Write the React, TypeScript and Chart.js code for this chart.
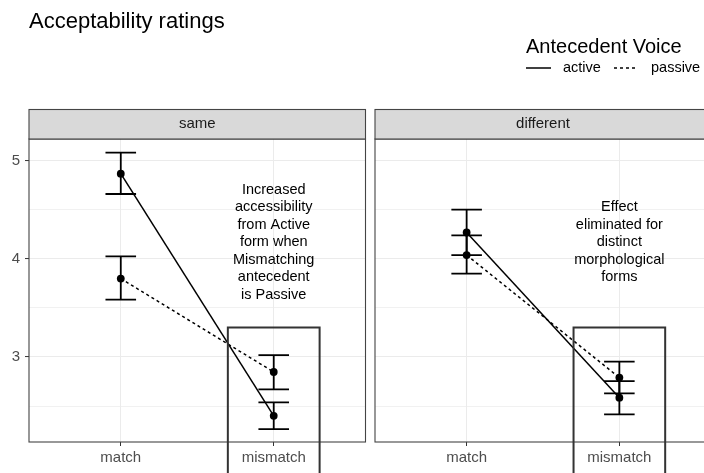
import React, { useEffect, useRef } from 'react';
import { Chart, registerables } from 'chart.js';
Chart.register(...registerables);

const FONT = '"Liberation Sans", Arial, Helvetica, sans-serif';
Chart.defaults.font.family = FONT;

// ---- data ----
const conditions = ['match', 'mismatch'];
const panelNames = ['same', 'different'];
const seriesNames = ['active', 'passive'];

const sameActiveMean = [4.87, 2.4];
const sameActiveLo = [4.663, 2.265];
const sameActiveHi = [5.085, 2.537];
const samePassiveMean = [3.8, 2.847];
const samePassiveLo = [3.585, 2.67];
const samePassiveHi = [4.027, 3.02];

const diffActiveMean = [4.27, 2.585];
const diffActiveLo = [4.04, 2.415];
const diffActiveHi = [4.503, 2.755];
const diffPassiveMean = [4.04, 2.79];
const diffPassiveLo = [3.85, 2.63];
const diffPassiveHi = [4.24, 2.952];

const yMajorTicks = [3, 4, 5];
const yMinorTicks = [2.5, 3.5, 4.5];
const yMin = 2.133;
const yMax = 5.224;

const sameNote = ['Increased', 'accessibility', 'from Active', 'form when', 'Mismatching', 'antecedent', 'is Passive'];
const diffNote = ['Effect', 'eliminated for', 'distinct', 'morphological', 'forms'];
const noteY = 4.18;
const boxTop = 3.3;
const boxHalfWidth = 0.3;
const capHalfWidth = 0.1;

const subtitle = 'Acceptability ratings';
const legendTitle = 'Antecedent Voice';

const W = 704;
const H = 473;

type Series = { mean: number[]; lo: number[]; hi: number[] };

function buildChart(
  canvas: HTMLCanvasElement,
  cfg: {
    strip: string;
    active: Series;
    passive: Series;
    note: string[];
    showY: boolean;
    padLeft: number;
    padRight: number;
    yWidth: number;
    extra?: (chart: any) => void;
  }
) {
  const decor = {
    id: 'decor',
    afterDatasetsDraw(chart: any) {
      const { ctx, scales } = chart;
      const x = scales.x;
      const y = scales.y;
      ctx.save();
      ctx.strokeStyle = '#000';
      ctx.lineWidth = 1.8;
      [cfg.active, cfg.passive].forEach((s) => {
        conditions.forEach((_, i) => {
          const xv = i + 1;
          const xp = x.getPixelForValue(xv);
          const xl = x.getPixelForValue(xv - capHalfWidth);
          const xr = x.getPixelForValue(xv + capHalfWidth);
          const yl = y.getPixelForValue(s.lo[i]);
          const yh = y.getPixelForValue(s.hi[i]);
          ctx.beginPath();
          ctx.moveTo(xp, yl);
          ctx.lineTo(xp, yh);
          ctx.moveTo(xl, yl);
          ctx.lineTo(xr, yl);
          ctx.moveTo(xl, yh);
          ctx.lineTo(xr, yh);
          ctx.stroke();
        });
      });
      ctx.restore();
    },
    afterDraw(chart: any) {
      const { ctx, chartArea: a, scales } = chart;
      const x = scales.x;
      const y = scales.y;
      ctx.save();
      // panel border
      ctx.strokeStyle = '#444';
      ctx.lineWidth = 1.1;
      ctx.strokeRect(a.left, a.top, a.right - a.left, a.bottom - a.top);
      // strip
      const sTop = 109.5;
      const sBot = a.top;
      ctx.fillStyle = '#d9d9d9';
      ctx.fillRect(a.left, sTop, a.right - a.left, sBot - sTop);
      ctx.strokeRect(a.left, sTop, a.right - a.left, sBot - sTop);
      ctx.fillStyle = '#1a1a1a';
      ctx.font = `15px ${FONT}`;
      ctx.textAlign = 'center';
      ctx.textBaseline = 'middle';
      ctx.fillText(cfg.strip, (a.left + a.right) / 2, (sTop + sBot) / 2);
      // highlight box around mismatch
      const bx1 = x.getPixelForValue(2 - boxHalfWidth);
      const bx2 = x.getPixelForValue(2 + boxHalfWidth);
      const by = y.getPixelForValue(boxTop);
      ctx.strokeStyle = '#333';
      ctx.lineWidth = 2;
      ctx.beginPath();
      ctx.moveTo(bx1, chart.height + 5);
      ctx.lineTo(bx1, by);
      ctx.lineTo(bx2, by);
      ctx.lineTo(bx2, chart.height + 5);
      ctx.stroke();
      // note text
      ctx.fillStyle = '#000';
      ctx.font = `14.5px ${FONT}`;
      ctx.textAlign = 'center';
      ctx.textBaseline = 'alphabetic';
      const lh = 17.5;
      const cx = x.getPixelForValue(2);
      const cy = y.getPixelForValue(noteY);
      const n = cfg.note.length;
      cfg.note.forEach((t, i) => {
        ctx.fillText(t, cx, cy + 5 + (i - (n - 1) / 2) * lh);
      });
      ctx.restore();
      if (cfg.extra) cfg.extra(chart);
    },
  };

  const mkData = (s: Series) => conditions.map((_, i) => ({ x: i + 1, y: s.mean[i] }));

  return new Chart(canvas, {
    type: 'line',
    data: {
      datasets: [
        {
          label: seriesNames[0],
          data: mkData(cfg.active),
          borderColor: '#000',
          backgroundColor: '#000',
          borderWidth: 1.5,
          pointRadius: 3.9,
          pointBorderWidth: 0,
          pointBackgroundColor: '#000',
          borderDash: [],
        },
        {
          label: seriesNames[1],
          data: mkData(cfg.passive),
          borderColor: '#000',
          backgroundColor: '#000',
          borderWidth: 1.5,
          pointRadius: 3.9,
          pointBorderWidth: 0,
          pointBackgroundColor: '#000',
          borderDash: [3, 3],
        },
      ],
    },
    options: {
      responsive: false,
      animation: false,
      layout: { padding: { top: 139, left: cfg.padLeft, right: cfg.padRight, bottom: 0 } },
      plugins: { legend: { display: false }, title: { display: false }, tooltip: { enabled: false } },
      scales: {
        x: {
          type: 'linear',
          min: 0.4,
          max: 2.6,
          afterBuildTicks: (s: any) => {
            s.ticks = conditions.map((_, i) => ({ value: i + 1 }));
          },
          afterFit: (s: any) => {
            s.height = 31;
          },
          ticks: {
            callback: (v: any) => conditions[Math.round(v) - 1] ?? '',
            color: '#4d4d4d',
            font: { size: 15 },
            padding: 3,
            maxRotation: 0,
            autoSkip: false,
          },
          grid: { color: '#ebebeb', lineWidth: 1, tickColor: '#333', tickLength: 4, tickWidth: 1 },
          border: { display: false },
        },
        y: {
          type: 'linear',
          min: yMin,
          max: yMax,
          afterBuildTicks: (s: any) => {
            s.ticks = [...yMinorTicks, ...yMajorTicks].sort((a, b) => a - b).map((v) => ({ value: v }));
          },
          afterFit: (s: any) => {
            s.width = cfg.yWidth;
          },
          ticks: {
            display: cfg.showY,
            callback: (v: any) => (yMajorTicks.includes(v) ? String(v) : ''),
            color: '#4d4d4d',
            font: { size: 15 },
            padding: 5,
          },
          grid: {
            color: '#ebebeb',
            lineWidth: (c: any) => (c.tick && yMajorTicks.includes(c.tick.value) ? 1.1 : 0.7),
            drawTicks: cfg.showY,
            tickColor: (c: any) => (c.tick && yMajorTicks.includes(c.tick.value) ? '#333' : 'rgba(0,0,0,0)'),
            tickLength: 4,
            tickWidth: 1,
          },
          border: { display: false },
        },
      },
    },
    plugins: [decor],
  } as any);
}

export default function App() {
  const leftRef = useRef<HTMLCanvasElement>(null);
  const rightRef = useRef<HTMLCanvasElement>(null);

  useEffect(() => {
    const a = buildChart(leftRef.current!, {
      strip: panelNames[0],
      active: { mean: sameActiveMean, lo: sameActiveLo, hi: sameActiveHi },
      passive: { mean: samePassiveMean, lo: samePassiveLo, hi: samePassiveHi },
      note: sameNote,
      showY: true,
      padLeft: 0,
      padRight: 4.5,
      yWidth: 29,
      extra: (chart: any) => {
        const ctx = chart.ctx;
        ctx.save();
        ctx.fillStyle = '#000';
        ctx.font = `22px ${FONT}`;
        ctx.textAlign = 'left';
        ctx.textBaseline = 'alphabetic';
        ctx.fillText(subtitle, 29, 27.5);
        ctx.restore();
      },
    });
    const b = buildChart(rightRef.current!, {
      strip: panelNames[1],
      active: { mean: diffActiveMean, lo: diffActiveLo, hi: diffActiveHi },
      passive: { mean: diffPassiveMean, lo: diffPassiveLo, hi: diffPassiveHi },
      note: diffNote,
      showY: false,
      padLeft: 5,
      padRight: 9,
      yWidth: 0,
      extra: (chart: any) => {
        const ctx = chart.ctx;
        const ox = 370;
        ctx.save();
        ctx.fillStyle = '#000';
        ctx.font = `20px ${FONT}`;
        ctx.textAlign = 'left';
        ctx.textBaseline = 'alphabetic';
        ctx.fillText(legendTitle, 526 - ox, 53);
        ctx.strokeStyle = '#000';
        ctx.lineWidth = 1.5;
        ctx.beginPath();
        ctx.moveTo(526 - ox, 68);
        ctx.lineTo(551 - ox, 68);
        ctx.stroke();
        ctx.setLineDash([3, 3]);
        ctx.beginPath();
        ctx.moveTo(614 - ox, 68);
        ctx.lineTo(638 - ox, 68);
        ctx.stroke();
        ctx.setLineDash([]);
        ctx.font = `14.5px ${FONT}`;
        ctx.textBaseline = 'middle';
        ctx.fillText(seriesNames[0], 563 - ox, 68);
        ctx.fillText(seriesNames[1], 651 - ox, 68);
        ctx.restore();
      },
    });
    return () => {
      a.destroy();
      b.destroy();
    };
  }, []);

  return (
    <div style={{ position: 'fixed', left: 0, top: 0, width: W, height: H, overflow: 'hidden', background: '#fff' }}>
      <canvas ref={leftRef} width={370} height={H} style={{ position: 'absolute', left: 0, top: 0, width: 370, height: H }} />
      <canvas ref={rightRef} width={350} height={H} style={{ position: 'absolute', left: 370, top: 0, width: 350, height: H }} />
    </div>
  );
}
